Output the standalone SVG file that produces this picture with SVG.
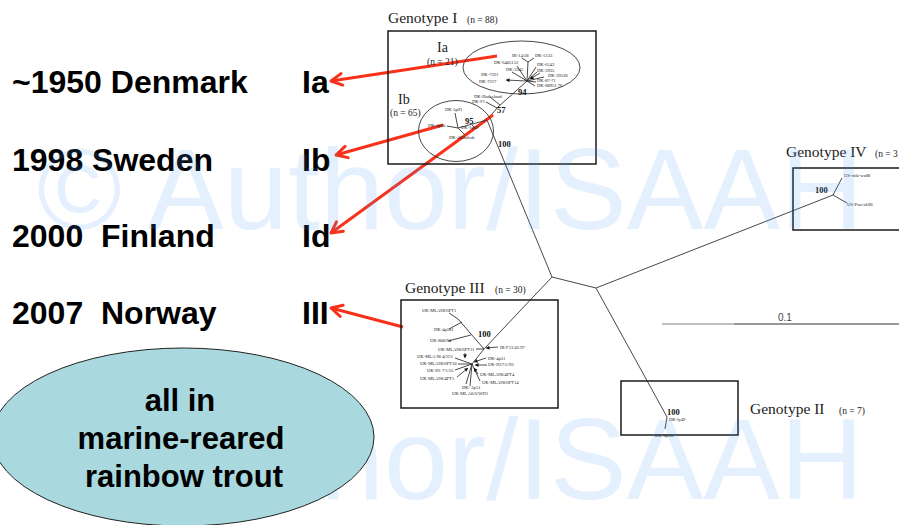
<svg xmlns="http://www.w3.org/2000/svg" width="899" height="525" viewBox="0 0 899 525">
<defs>
<style>
.big{font-family:"Liberation Sans",Arial,sans-serif;font-weight:bold;font-size:32px;fill:#000;white-space:pre}
.mid{font-family:"Liberation Sans",Arial,sans-serif;font-weight:bold;font-size:31px;fill:#000;text-anchor:middle}
.gt{font-family:"Liberation Serif","Times New Roman",serif;font-size:15.5px;fill:#222}
.gn{font-family:"Liberation Serif","Times New Roman",serif;font-size:9.5px;fill:#222}
.lb{font-family:"Liberation Serif","Times New Roman",serif;font-size:4.6px;fill:#222}
.bs{font-family:"Liberation Serif","Times New Roman",serif;font-size:8.5px;font-weight:bold;fill:#111}
.box{fill:none;stroke:#1a1a1a;stroke-width:1.5}
.tr{fill:none;stroke:#333;stroke-width:0.9}
.ta{fill:none;stroke:#222;stroke-width:0.8;marker-end:url(#sa)}
.ar{fill:none;stroke:#f8311a;stroke-width:3;marker-end:url(#red)}
.wm{font-family:"Liberation Sans",Arial,sans-serif;font-size:115px;fill:#4a9cf0;fill-opacity:0.15}
</style>
<marker id="red" markerUnits="userSpaceOnUse" markerWidth="20" markerHeight="20" viewBox="-15 -10 20 20" refX="0" refY="0" orient="auto">
<path d="M-11,-5.8 L0,0 L-11,5.8" fill="none" stroke="#f8311a" stroke-width="3" stroke-linecap="round" stroke-linejoin="round"/>
</marker>
<marker id="sa" markerUnits="userSpaceOnUse" markerWidth="6" markerHeight="6" viewBox="-4 -3 5 6" refX="0" refY="0" orient="auto">
<path d="M-3.5,-2 L0,0 L-3.5,2 Z" fill="#111"/>
</marker>
</defs>
<rect width="899" height="525" fill="#fff"/>

<g id="left-labels">
<text class="big" x="12" y="93">~1950 Denmark</text>
<text class="big" x="12" y="171">1998 Sweden</text>
<text class="big" x="12" y="247">2000  Finland</text>
<text class="big" x="12" y="324">2007  Norway</text>
<text class="big" x="302" y="93">Ia</text>
<text class="big" x="302" y="171">Ib</text>
<text class="big" x="302" y="247">Id</text>
<text class="big" x="302" y="324">III</text>
</g>

<g id="connectors">
<path class="tr" d="M552,277 L487,120 L498,107 L527,81"/>
<path class="tr" d="M552,277 L596,288"/>
<path class="tr" d="M596,288 L833,195"/>
<path class="tr" d="M596,288 L667,417"/>
<path class="tr" d="M552,277 L484,349"/>
<line class="ar" x1="497" y1="56" x2="331" y2="81"/>
<line class="ar" x1="443" y1="125" x2="336" y2="155"/>
<line class="ar" x1="493" y1="115" x2="331" y2="233"/>
<line class="ar" x1="403" y1="327" x2="331" y2="308"/>
</g>

<g id="genotype-I">
<text class="gt" x="388" y="23">Genotype I</text>
<text class="gn" x="467" y="23">(n = 88)</text>
<rect class="box" x="388" y="31" width="208" height="133"/>
<text class="gt" x="437" y="52" style="font-size:14px">Ia</text>
<text class="gn" x="427" y="65">(n = 21)</text>
<text class="gt" x="398" y="104" style="font-size:14px">Ib</text>
<text class="gn" x="390" y="116">(n = 65)</text>
<ellipse cx="521.5" cy="67.5" rx="58.5" ry="26.5" fill="none" stroke="#333" stroke-width="0.9"/>
<ellipse cx="456" cy="131" rx="37.5" ry="30.5" fill="none" stroke="#333" stroke-width="0.9"/>
<path class="tr" d="M527,81 L528,62 M528,62 L522,58 M528,62 L534,58 M527,81 L517,66 M527,81 L512,72 M527,81 L544,77 M527,81 L536,67 M527,81 L537,72 M527,81 L536,82 M527,81 L535,86 M500,105 L490,97 M497,108 L486,102"/>
<path class="ta" d="M527,81 L506,80"/>
<path class="ta" d="M540,73 L530,79"/>
<text class="lb" x="512" y="57">IR-14/58</text>
<text class="lb" x="535" y="57">DK-5133</text>
<text class="lb" x="494" y="64">DK-6405152</text>
<text class="lb" x="537" y="66">DK-6143</text>
<text class="lb" x="506" y="71">DK-3345</text>
<text class="lb" x="537" y="72">DK-3935</text>
<text class="lb" x="481" y="76">DK-7321</text>
<text class="lb" x="548" y="77">DK-39528</text>
<text class="lb" x="537" y="82">DK-87-71</text>
<text class="lb" x="479" y="83">DK-7217</text>
<text class="lb" x="537" y="87">DK-88951 76</text>
<text class="bs" x="518" y="95">94</text>
<text class="lb" x="474" y="98">DK-Hadeslund</text>
<text class="lb" x="472" y="103">DK-F1</text>
<text class="bs" x="497" y="113">57</text>
<path class="tr" d="M487,120 L458,128 M458,128 L455,113 M458,128 L447,126 M458,128 L465,135 M472,125 L476,129"/>
<text class="lb" x="445" y="111">DK-5p91</text>
<text class="lb" x="428" y="127">DK-4p90</text>
<text class="lb" x="461" y="129">DK-1p69</text>
<text class="lb" x="449" y="139">DK-400hdvde</text>
<text class="bs" x="465" y="124">95</text>
<text class="bs" x="498" y="147">100</text>
</g>

<g id="genotype-III">
<text class="gt" x="405" y="293">Genotype III</text>
<text class="gn" x="495" y="293">(n = 30)</text>
<rect class="box" x="401" y="300" width="157" height="108"/>
<path class="tr" d="M484,349 L472,364 M484,349 L458,319 L449,313 M449,329 L462,322 M448,341 L471,335 M476,349 L484,349 M472,364 L455,358 M472,364 L458,364 M472,364 L455,370 M472,364 L480,381 M472,364 L470,386 M472,364 L466,384"/>
<path class="ta" d="M465,353 L465,358"/>
<path class="ta" d="M498,347 L486,348"/>
<path class="ta" d="M486,358 L474,362"/>
<path class="ta" d="M487,365 L475,365"/>
<path class="ta" d="M457,377 L468,368"/>
<path class="ta" d="M478,374 L474,368"/>
<text class="lb" x="422" y="312">UK-MLA98/6PT1</text>
<text class="lb" x="434" y="331">DK-4p101</text>
<text class="bs" x="478" y="337">100</text>
<text class="lb" x="430" y="342">UK-800/94</text>
<text class="lb" x="438" y="351">UK-MLA98/6PT11</text>
<text class="lb" x="500" y="349">IR-F13.02.97</text>
<text class="lb" x="417" y="358">UK-MLA 98 4CO1</text>
<text class="lb" x="488" y="360">DK-4p51</text>
<text class="lb" x="420" y="365">UK-MLA98/6PT10</text>
<text class="lb" x="488" y="366">UK-H17/5/93</text>
<text class="lb" x="427" y="372">UK-H1 7/1/55</text>
<text class="lb" x="480" y="376">UK-MLA98/4PT4</text>
<text class="lb" x="420" y="380">UK-MLA98/4PT5</text>
<text class="lb" x="482" y="384">UK-MLA98/6PT14</text>
<text class="lb" x="462" y="389">DK- 2p51</text>
<text class="lb" x="452" y="395">UK-ML A0/6/WH1</text>
</g>

<g id="genotype-IV">
<text class="gt" x="786" y="157">Genotype IV</text>
<text class="gn" x="875" y="157">(n = 3</text>
<rect class="box" x="793" y="168" width="120" height="62"/>
<path class="tr" d="M833,195 L842,178 M833,195 L847,203"/>
<text class="bs" x="815" y="193">100</text>
<text class="lb" x="844" y="177">US-rnik-wa88</text>
<text class="lb" x="847" y="206">US-Pws-ak90</text>
</g>

<g id="genotype-II">
<text class="gt" x="750" y="414">Genotype II</text>
<text class="gn" x="839" y="414">(n = 7)</text>
<rect class="box" x="621" y="381" width="117" height="54"/>
<path class="tr" d="M667,417 L665,429"/>
<text class="bs" x="667" y="415">100</text>
<text class="lb" x="669" y="421">DK-ly49</text>
<text class="lb" x="655" y="437">DK-5p53i</text>
</g>

<g id="scale-bar">
<line x1="662" y1="324" x2="734" y2="324" stroke="#aaa" stroke-width="1.6"/>
<line x1="734" y1="324" x2="899" y2="324" stroke="#777" stroke-width="1.6"/>
<text x="778" y="321" style="font-family:'Liberation Sans',Arial,sans-serif;font-size:10px;fill:#444">0.1</text>
</g>

<g id="watermark">
<text class="wm" x="37" y="229">© Author/ISAAH</text>
<text class="wm" x="37" y="499">© Author/ISAAH</text>
</g>

<g id="note-ellipse">
<ellipse cx="183" cy="437" rx="191" ry="89" fill="#a9d9de" stroke="#222" stroke-width="1"/>
<text class="mid" x="180" y="411">all in</text>
<text class="mid" x="181" y="449">marine-reared</text>
<text class="mid" x="184" y="487">rainbow trout</text>
</g>
</svg>
